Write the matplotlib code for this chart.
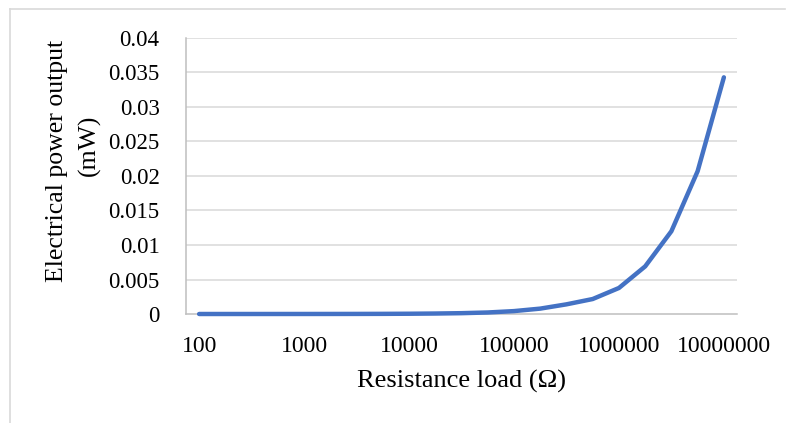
import matplotlib.pyplot as plt
from matplotlib.lines import Line2D
from matplotlib.ticker import FixedLocator, FixedFormatter, NullLocator

plt.rcParams["font.family"] = ["Liberation Serif", "DejaVu Serif"]

# %% Data

# Resistance load (ohm), four points per decade
resistance = [100, 178, 316, 562, 1000, 1778, 3162, 5623, 10000, 17783, 31623,
              56234, 100000, 177828, 316228, 562341, 1000000, 1778279, 3162278,
              5623413, 10000000]
# Electrical power output (mW)
power = [0.0000004, 0.0000007, 0.0000012, 0.0000022, 0.0000038, 0.0000068,
         0.000012, 0.000021, 0.000038, 0.000068, 0.00012, 0.00022, 0.00042,
         0.00078, 0.0014, 0.00217, 0.00377, 0.0069, 0.0120, 0.0207, 0.0343]

xticks = [100, 1000, 10000, 100000, 1000000, 10000000]
xticklabels = ["100", "1000", "10000", "100000", "1000000", "10000000"]
yticks = [0, 0.005, 0.01, 0.015, 0.02, 0.025, 0.03, 0.035, 0.04]
yticklabels = ["0", "0.005", "0.01", "0.015", "0.02", "0.025", "0.03", "0.035", "0.04"]

# %% Plot

W, H = 786, 423
fig = plt.figure(figsize=(W / 100, H / 100), dpi=100)

# plot area in pixels: left, right, top, bottom
l, r, t, b = 186, 737, 38, 314
ax = fig.add_axes([l / W, 1 - b / H, (r - l) / W, (b - t) / H])

grid_c = "#d9d9d9"
for y in yticks[1:]:
    ax.axhline(y, color=grid_c, lw=1.1, zorder=0)

ax.plot(resistance, power, color="#4472c4", lw=3.2, solid_capstyle="round",
        solid_joinstyle="round", zorder=3, clip_on=False)

ax.set_xscale("log")
ax.set_xlim(100 / 10 ** 0.125, 1e7 * 10 ** 0.125)
ax.set_ylim(0, 0.04)

ax.xaxis.set_major_locator(FixedLocator(xticks))
ax.xaxis.set_major_formatter(FixedFormatter(xticklabels))
ax.xaxis.set_minor_locator(NullLocator())
ax.yaxis.set_major_locator(FixedLocator(yticks))
ax.yaxis.set_major_formatter(FixedFormatter(yticklabels))

ax.tick_params(length=0, labelsize=16.5, colors="black")
ax.tick_params(axis="x", labelsize=17, pad=16)
ax.tick_params(axis="y", pad=19)

for side in ["top", "right"]:
    ax.spines[side].set_visible(False)
for side in ["left", "bottom"]:
    ax.spines[side].set_color("#bfbfbf")
    ax.spines[side].set_linewidth(1.1)

ax.set_xlabel("Resistance load (\u03a9)", fontsize=19, labelpad=9)

# y title, two lines placed like the original
fig.text(57 / W, 1 - 161 / H, "Electrical power output", rotation=90,
         ha="center", va="center", fontsize=18.5)
fig.text(89 / W, 1 - 145 / H, "(mW)", rotation=90,
         ha="center", va="center", fontsize=18.5)

# outer chart frame (left and top edges)
fig.add_artist(Line2D([10 / W, 10 / W], [0, 1 - 9 / H], color="#d9d9d9", lw=1.2))
fig.add_artist(Line2D([10 / W, 785 / W], [1 - 9 / H, 1 - 9 / H], color="#d9d9d9", lw=1.2))

fig.savefig("out.png", dpi=100)
